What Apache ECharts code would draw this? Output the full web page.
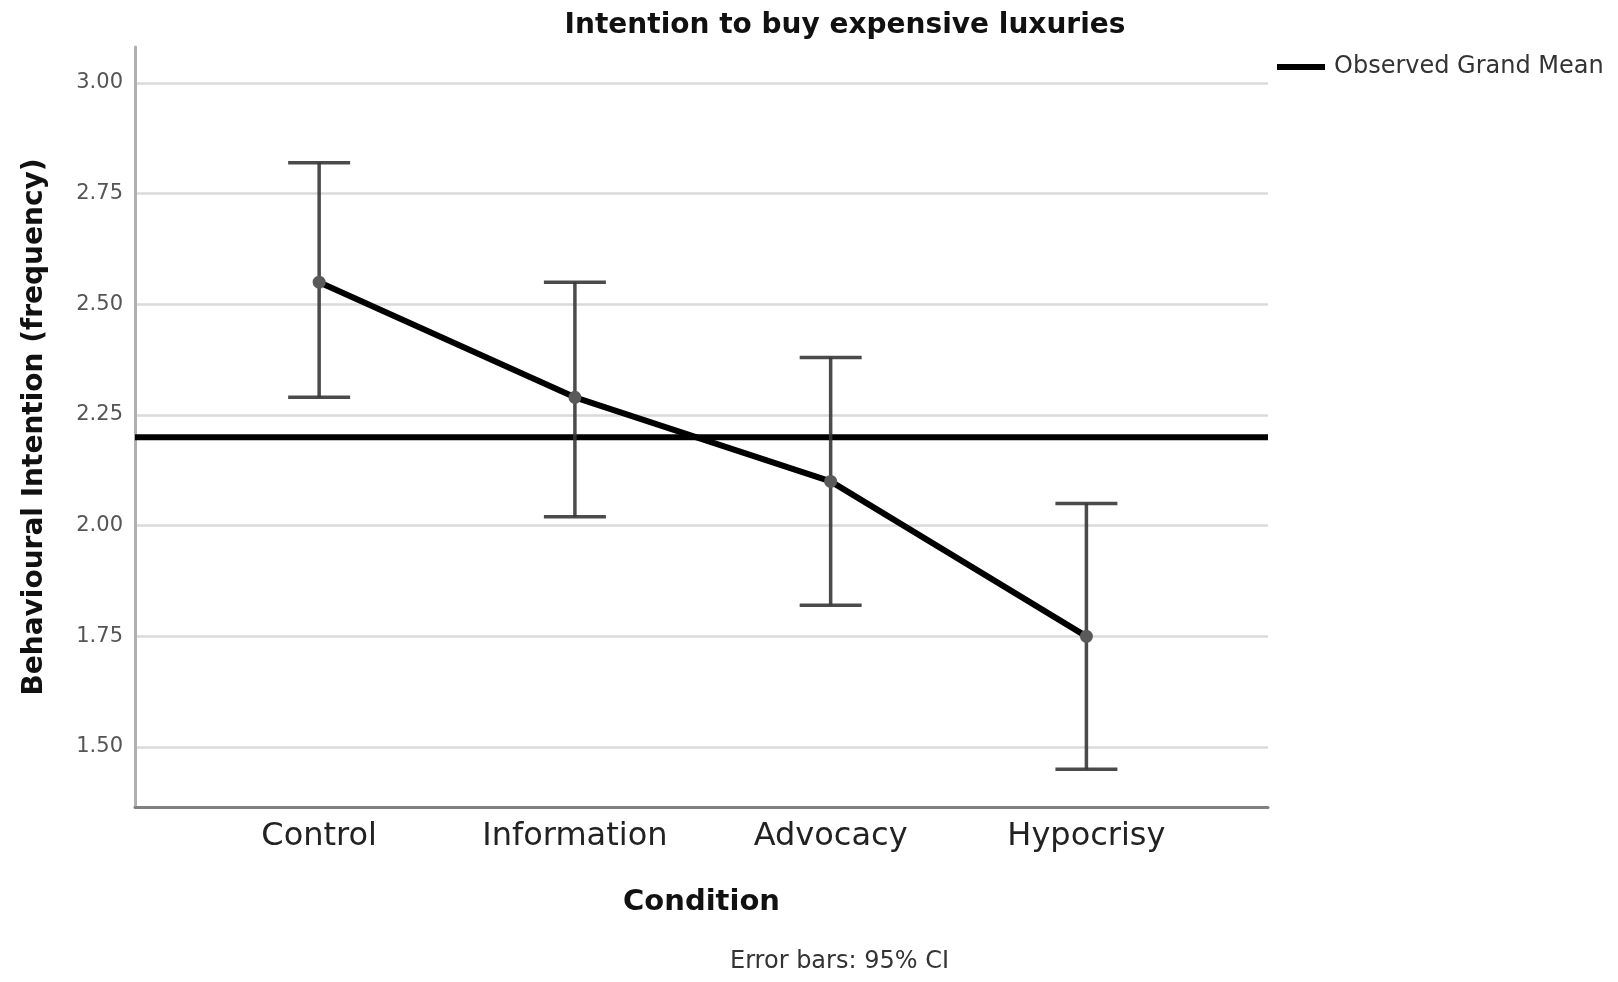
<!DOCTYPE html>
<html>
<head>
<meta charset="utf-8">
<script src="https://cdn.jsdelivr.net/npm/echarts@6/dist/echarts.min.js"></script>
<style>
html,body{margin:0;padding:0;background:#fff;}
#chart{width:1618px;height:982px;}
</style>
</head>
<body>
<div id="chart"></div>
<script>
const categories = ['Control', 'Information', 'Advocacy', 'Hypocrisy'];
const means = [2.55, 2.29, 2.10, 1.75];
const ciLower = [2.29, 2.02, 1.82, 1.45];
const ciUpper = [2.82, 2.55, 2.38, 2.05];
const grandMean = 2.20;
const yTicks = [1.50, 1.75, 2.00, 2.25, 2.50, 2.75, 3.00];

const FONT = '"DejaVu Sans"';
const xMin = -0.72, xMax = 3.71;

const chart = echarts.init(document.getElementById('chart'));
const option = {
  animation: false,
  backgroundColor: '#ffffff',
  textStyle: { fontFamily: FONT },
  title: {
    text: 'Intention to buy expensive luxuries',
    left: 840, top: 7, textAlign: 'center',
    textStyle: { fontFamily: FONT, fontSize: 28, fontWeight: 'bold', color: '#111' }
  },
  legend: {
    data: ['Observed Grand Mean'],
    left: 1272, top: 50,
    icon: 'rect', itemWidth: 48, itemHeight: 6, itemGap: 10,
    textStyle: { fontFamily: FONT, fontSize: 24, color: '#333', padding: [0, 0, 0, 4] }
  },
  grid: { left: 135, right: 350, top: 47, bottom: 175 },
  xAxis: {
    type: 'value', min: xMin, max: xMax,
    name: 'Condition', nameLocation: 'middle', nameGap: 81,
    nameTextStyle: { fontFamily: FONT, fontSize: 29, fontWeight: 'bold', color: '#111' },
    axisLine: { show: true, onZero: false, lineStyle: { color: '#808080', width: 3 } },
    axisTick: { show: false, customValues: [0, 1, 2, 3] },
    axisLabel: {
      customValues: [0, 1, 2, 3], margin: 14,
      formatter: v => categories[Math.round(v)] || '',
      fontFamily: FONT, fontSize: 32, color: '#222'
    },
    splitLine: { show: false }
  },
  yAxis: {
    type: 'value', min: 1.3645, max: 3.0813,
    name: 'Behavioural Intention (frequency)', nameLocation: 'middle', nameGap: 86, nameRotate: 90,
    nameTextStyle: { fontFamily: FONT, fontSize: 28, fontWeight: 'bold', color: '#111' },
    axisLine: { show: true, onZero: false, lineStyle: { color: '#b0b0b0', width: 3 } },
    axisTick: { show: false, customValues: yTicks },
    axisLabel: {
      customValues: yTicks, margin: 12,
      formatter: v => v.toFixed(2),
      fontFamily: FONT, fontSize: 21, color: '#555'
    },
    splitLine: { show: true, lineStyle: { color: '#dadada', width: 2.5 } }
  },
  graphic: [{
    type: 'text', left: 730, top: 950,
    style: { text: 'Error bars: 95% CI', font: '24px ' + FONT, fill: '#333' }
  }],
  series: [
    {
      name: 'Observed Grand Mean', type: 'line',
      data: [[xMin, grandMean], [xMax, grandMean]],
      symbol: 'none', lineStyle: { color: '#000', width: 6 },
      itemStyle: { color: '#000' }, z: 3
    },
    {
      name: 'CI', type: 'custom',
      data: categories.map((c, i) => [i, ciLower[i], ciUpper[i]]),
      encode: { x: 0, y: [1, 2] },
      renderItem: function (params, api) {
        const x = api.value(0);
        const lo = api.coord([x, api.value(1)]);
        const hi = api.coord([x, api.value(2)]);
        const hw = 31;
        const st = { stroke: 'rgba(55,55,55,0.9)', lineWidth: 3.5 };
        return {
          type: 'group',
          children: [
            { type: 'line', shape: { x1: hi[0], y1: hi[1], x2: lo[0], y2: lo[1] }, style: st },
            { type: 'line', shape: { x1: hi[0] - hw, y1: hi[1], x2: hi[0] + hw, y2: hi[1] }, style: st },
            { type: 'line', shape: { x1: lo[0] - hw, y1: lo[1], x2: lo[0] + hw, y2: lo[1] }, style: st }
          ]
        };
      },
      z: 4
    },
    {
      name: 'Mean', type: 'line',
      data: categories.map((c, i) => [i, means[i]]),
      symbol: 'circle', symbolSize: 13,
      lineStyle: { color: '#000', width: 6 },
      itemStyle: { color: '#5a5a5a' }, z: 5
    }
  ]
};
chart.setOption(option);
</script>
</body>
</html>
